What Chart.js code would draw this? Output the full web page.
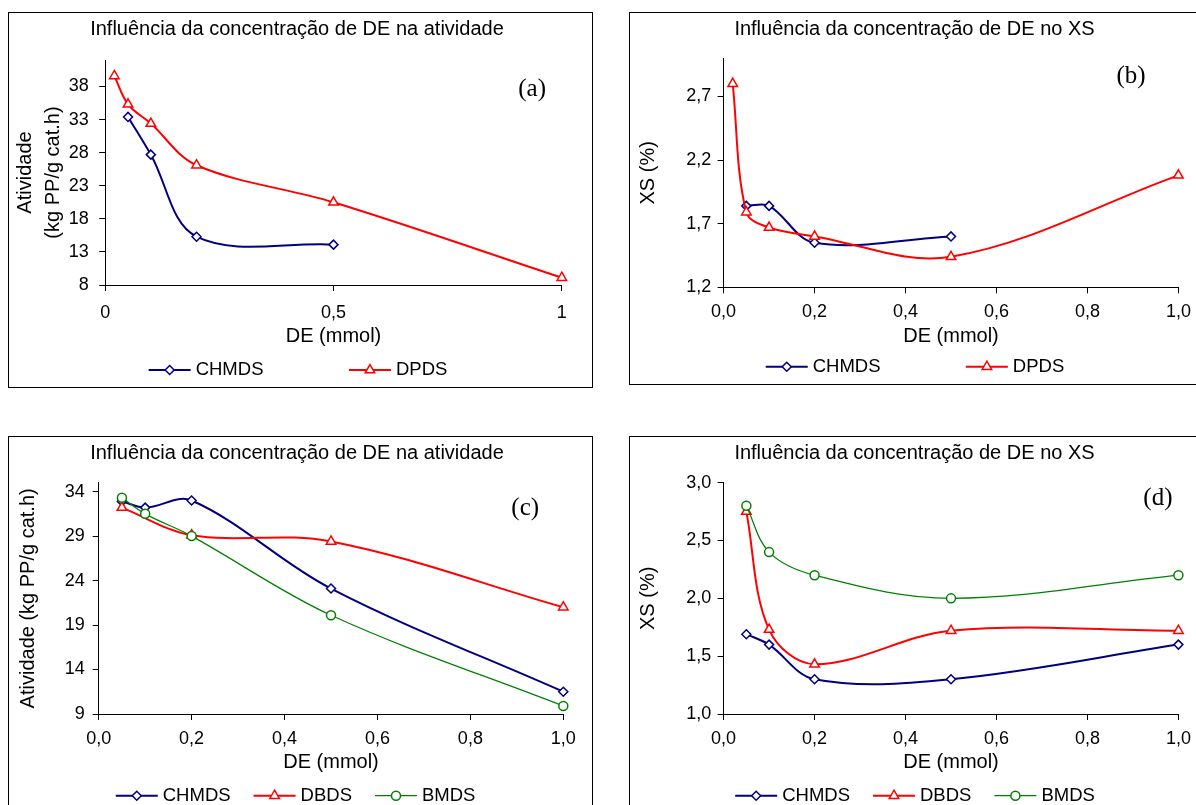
<!DOCTYPE html>
<html lang="pt">
<head>
<meta charset="utf-8">
<title>Influência da concentração de DE</title>
<script src="https://cdn.jsdelivr.net/npm/chart.js@4.4.1/dist/chart.umd.min.js"></script>
<style>
  html, body { margin: 0; padding: 0; background: #fff; }
  body { width: 1196px; height: 805px; position: relative; overflow: hidden; }
  .painel { position: absolute; box-sizing: border-box; border: 1px solid #000; background: #fff; }
  .painel canvas { display: block; }
  #pa { left: 8px;   top: 12px;  width: 585px; height: 376px; }
  #pb { left: 629px; top: 12px;  width: 572px; height: 373px; }
  #pc { left: 8px;   top: 436px; width: 585px; height: 377px; }
  #pd { left: 629px; top: 436px; width: 572px; height: 377px; }
</style>
</head>
<body>
<div class="painel" id="pa"><canvas id="ga" width="583" height="374"></canvas></div>
<div class="painel" id="pb"><canvas id="gb" width="570" height="371"></canvas></div>
<div class="painel" id="pc"><canvas id="gc" width="583" height="375"></canvas></div>
<div class="painel" id="pd"><canvas id="gd" width="570" height="375"></canvas></div>

<script>
/* ---- dados: (a) atividade, CHMDS x DPDS ---- */
const xA_chmds = [0.05, 0.1, 0.2, 0.5];
const yA_chmds = [33.4, 27.7, 15.3, 14.1];
const xA_dpds  = [0.02, 0.05, 0.1, 0.2, 0.5, 1];
const yA_dpds  = [39.6, 35.3, 32.4, 26.1, 20.5, 9.1];
const xTicksA  = [0, 0.5, 1];
const xLabelsA = ['0', '0,5', '1'];
const yTicksA  = [8, 13, 18, 23, 28, 33, 38];
const yLabelsA = ['8', '13', '18', '23', '28', '33', '38'];
const yRangeA  = [8, 42];

/* ---- (b) XS, CHMDS x DPDS ---- */
const xB_chmds = [0.05, 0.1, 0.2, 0.5];
const yB_chmds = [1.84, 1.84, 1.55, 1.60];
const xB_dpds  = [0.02, 0.05, 0.1, 0.2, 0.5, 1.0];
const yB_dpds  = [2.80, 1.79, 1.67, 1.60, 1.44, 2.08];
const yTicksB  = [1.2, 1.7, 2.2, 2.7];
const yLabelsB = ['1,2', '1,7', '2,2', '2,7'];
const yRangeB  = [1.2, 3.0];

/* ---- (c) atividade, CHMDS x DBDS x BMDS ---- */
const xC       = [0.05, 0.1, 0.2, 0.5, 1.0];
const yC_chmds = [32.9, 32.2, 33.0, 23.1, 11.5];
const xC_dbds  = [0.05, 0.2, 0.5, 1.0];
const yC_dbds  = [32.2, 29.1, 28.4, 21.0];
const yC_bmds  = [33.3, 31.5, 29.0, 20.1, 9.9];
const yTicksC  = [9, 14, 19, 24, 29, 34];
const yLabelsC = ['9', '14', '19', '24', '29', '34'];
const yRangeC  = [9, 35];

/* ---- (d) XS, CHMDS x DBDS x BMDS ---- */
const xD       = [0.05, 0.1, 0.2, 0.5, 1.0];
const yD_chmds = [1.69, 1.60, 1.30, 1.30, 1.60];
const yD_dbds  = [2.75, 1.73, 1.43, 1.72, 1.72];
const yD_bmds  = [2.80, 2.40, 2.20, 2.00, 2.20];
const yTicksD  = [1.0, 1.5, 2.0, 2.5, 3.0];
const yLabelsD = ['1,0', '1,5', '2,0', '2,5', '3,0'];
const yRangeD  = [1.0, 3.0];

/* eixo x comum a (b), (c) e (d) */
const xTicks01  = [0, 0.2, 0.4, 0.6, 0.8, 1.0];
const xLabels01 = ['0,0', '0,2', '0,4', '0,6', '0,8', '1,0'];

const FONTE = "'Liberation Sans', Arial, Helvetica, sans-serif";
Chart.defaults.font.family = FONTE;
Chart.defaults.color = '#000';

const estilos = {
  CHMDS: { cor: '#000080', largura: 2,    ponto: 'rectRot',  raio: 4.5 },
  DPDS:  { cor: '#ff0000', largura: 2,    ponto: 'triangle', raio: 5.5 },
  DBDS:  { cor: '#ff0000', largura: 2,    ponto: 'triangle', raio: 5.5 },
  BMDS:  { cor: '#008000', largura: 1.25, ponto: 'circle',   raio: 4.5 }
};

// a última série fica por cima (order menor = desenhada por último)
function serie(nome, xs, ys, ordem) {
  const e = estilos[nome];
  return {
    label: nome,
    data: xs.map((x, i) => ({ x, y: ys[i] })),
    borderColor: e.cor,
    borderWidth: e.largura,
    pointStyle: e.ponto,
    pointRadius: e.raio,
    pointHoverRadius: e.raio,
    pointBorderColor: e.cor,
    pointBackgroundColor: '#fff',
    pointBorderWidth: 1.5,
    tension: 0.35,
    fill: false,
    clip: false,
    order: ordem
  };
}

// legenda em linha: traço + marcador + nome
const legendaLinha = {
  id: 'legendaLinha',
  afterDraw(chart, args, opts) {
    const ctx = chart.ctx;
    const sets = chart.data.datasets;
    ctx.save();
    ctx.font = `${opts.tamanho}px ${FONTE}`;
    const larg = sets.map(d => opts.traco + opts.folga + ctx.measureText(d.label).width);
    const total = larg.reduce((a, b) => a + b, 0) + opts.espaco * (sets.length - 1);
    let x = opts.cx - total / 2;
    const y = opts.cy;
    sets.forEach((d, i) => {
      ctx.strokeStyle = d.borderColor;
      ctx.lineWidth = d.borderWidth;
      ctx.beginPath();
      ctx.moveTo(x, y);
      ctx.lineTo(x + opts.traco, y);
      ctx.stroke();
      ctx.fillStyle = '#fff';
      ctx.lineWidth = d.pointBorderWidth;
      Chart.helpers.drawPoint(ctx, {
        pointStyle: d.pointStyle, radius: d.pointRadius,
        borderWidth: d.pointBorderWidth, rotation: 0
      }, x + opts.traco / 2, y);
      ctx.fillStyle = '#000';
      ctx.textAlign = 'left';
      ctx.textBaseline = 'middle';
      ctx.fillText(d.label, x + opts.traco + opts.folga, y);
      x += larg[i] + opts.espaco;
    });
    ctx.restore();
  }
};

// letra do painel, (a) (b) ...
const letraPainel = {
  id: 'letraPainel',
  afterDraw(chart, args, opts) {
    const { ctx, scales } = chart;
    ctx.save();
    ctx.font = "25px 'Liberation Serif', 'Times New Roman', serif";
    ctx.fillStyle = '#000';
    ctx.textAlign = 'center';
    ctx.textBaseline = 'middle';
    ctx.fillText(opts.texto, scales.x.getPixelForValue(opts.px), scales.y.getPixelForValue(opts.py));
    ctx.restore();
  }
};

const MARCA = 6;

function painel(id, g) {
  const cv = document.getElementById(id);
  const W = cv.width, H = cv.height;
  const [al, ar, at, ab] = g.area;
  const L = 2 * g.tituloX - ar;
  const R = W - ar;
  const padTitulo = g.tituloY - 12;

  new Chart(cv, {
    type: 'line',
    data: { datasets: g.series },
    options: {
      responsive: false,
      animation: false,
      events: [],
      layout: { padding: { left: L, right: R, top: 0, bottom: 0 } },
      plugins: {
        legend: { display: false },
        tooltip: { enabled: false },
        title: {
          display: true, text: g.titulo, color: '#000',
          font: { size: 20, weight: 'normal' },
          padding: { top: padTitulo, bottom: at - padTitulo - 24 }
        },
        legendaLinha: { cx: g.legenda[0], cy: g.legenda[1], espaco: g.legenda[2], traco: 42, folga: 5, tamanho: 18.5 },
        letraPainel: { texto: g.letra[0], px: g.letra[1], py: g.letra[2] }
      },
      scales: {
        x: {
          type: 'linear', min: 0, max: 1,
          afterBuildTicks: s => { s.ticks = g.xTicks.map(v => ({ value: v })); },
          afterFit: s => { s.height = H - ab; },
          ticks: {
            callback: (v, i) => g.xLabels[i],
            font: { size: 18 }, color: '#000',
            padding: g.xTickY - ab - MARCA - 10.8,
            maxRotation: 0, autoSkip: false
          },
          grid: { drawOnChartArea: false, drawTicks: true, tickLength: MARCA, color: '#000' },
          border: { color: '#000', width: 1 },
          title: {
            display: true, text: 'DE (mmol)', color: '#000',
            font: { size: 20 },
            padding: { top: 0, bottom: H - g.xTituloY - 12 }
          }
        },
        y: {
          type: 'linear', min: g.yRange[0], max: g.yRange[1],
          afterBuildTicks: s => { s.ticks = g.yTicks.map(v => ({ value: v })); },
          afterFit: s => { s.width = al - L; },
          ticks: {
            callback: (v, i) => g.yLabels[i],
            font: { size: 18 }, color: '#000',
            padding: g.yGap - MARCA, autoSkip: false
          },
          grid: { drawOnChartArea: false, drawTicks: true, tickLength: MARCA, color: '#000' },
          border: { color: '#000', width: 1 },
          title: {
            display: true, text: g.yTitulo, color: '#000',
            font: { size: 20, lineHeight: 1.39 },
            padding: { top: g.yTituloX - L - 13.9, bottom: 0 }
          }
        }
      }
    },
    plugins: [legendaLinha, letraPainel]
  });
}

painel('ga', {
  titulo: 'Influência da concentração de DE na atividade',
  yTitulo: ['Atividade', '(kg PP/g cat.h)'],
  series: [serie('CHMDS', xA_chmds, yA_chmds, 1), serie('DPDS', xA_dpds, yA_dpds, 0)],
  xTicks: xTicksA, xLabels: xLabelsA, yTicks: yTicksA, yLabels: yLabelsA, yRange: yRangeA,
  area: [96.2, 552.8, 47, 272], tituloX: 288, tituloY: 16,
  xTickY: 300.3, xTituloY: 323.7, yTituloX: 16.8, yGap: 16.4,
  legenda: [289, 357, 85.5], letra: ['(a)', 0.935, 37.5]
});

painel('gb', {
  titulo: 'Influência da concentração de DE no XS',
  yTitulo: 'XS (%)',
  series: [serie('CHMDS', xB_chmds, yB_chmds, 1), serie('DPDS', xB_dpds, yB_dpds, 0)],
  xTicks: xTicks01, xLabels: xLabels01, yTicks: yTicksB, yLabels: yLabelsB, yRange: yRangeB,
  area: [93.6, 548.4, 45.3, 274.3], tituloX: 284.5, tituloY: 16,
  xTickY: 298.7, xTituloY: 323.7, yTituloX: 18.5, yGap: 12.3,
  legenda: [285, 353.7, 85.3], letra: ['(b)', 0.896, 2.858]
});

painel('gc', {
  titulo: 'Influência da concentração de DE na atividade',
  yTitulo: 'Atividade (kg PP/g cat.h)',
  series: [serie('CHMDS', xC, yC_chmds, 2), serie('DBDS', xC_dbds, yC_dbds, 1), serie('BMDS', xC, yC_bmds, 0)],
  xTicks: xTicks01, xLabels: xLabels01, yTicks: yTicksC, yLabels: yLabelsC, yRange: yRangeC,
  area: [89.7, 554.3, 45.7, 277], tituloX: 288, tituloY: 16,
  xTickY: 302, xTituloY: 325.3, yTituloX: 19.7, yGap: 14,
  legenda: [286.6, 358.7, 23], letra: ['(c)', 0.918, 32.1]
});

painel('gd', {
  titulo: 'Influência da concentração de DE no XS',
  yTitulo: 'XS (%)',
  series: [serie('CHMDS', xD, yD_chmds, 2), serie('DBDS', xD, yD_dbds, 1), serie('BMDS', xD, yD_bmds, 0)],
  xTicks: xTicks01, xLabels: xLabels01, yTicks: yTicksD, yLabels: yLabelsD, yRange: yRangeD,
  area: [93.6, 548.4, 45.7, 277], tituloX: 284.5, tituloY: 16,
  xTickY: 302, xTituloY: 325.3, yTituloX: 18.5, yGap: 12.3,
  legenda: [285, 358.7, 23], letra: ['(d)', 0.955, 2.86]
});
</script>
</body>
</html>
